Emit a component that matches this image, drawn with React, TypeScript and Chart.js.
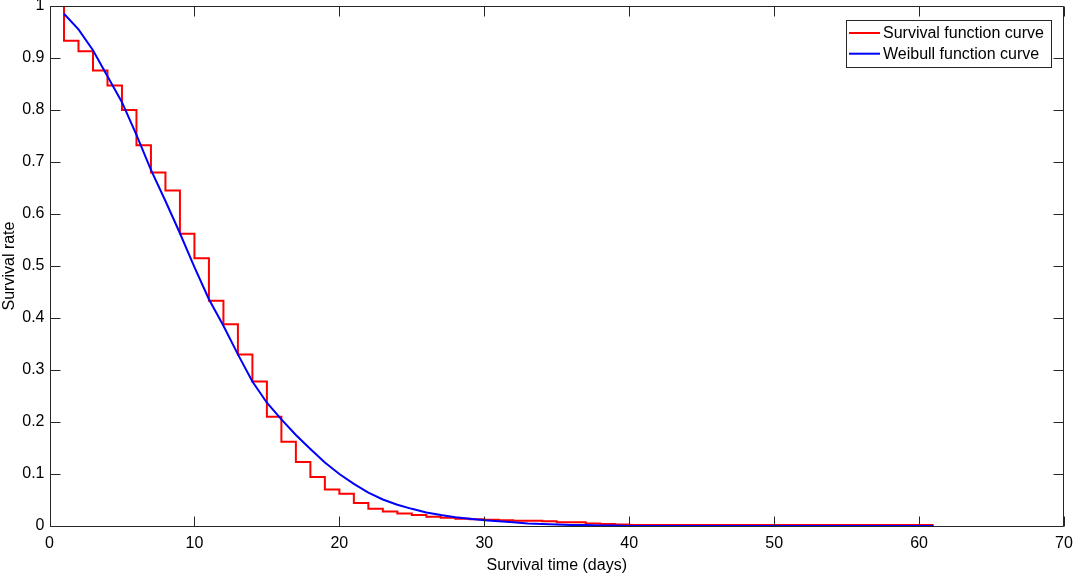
import React, { useEffect, useRef } from "react";
import { Chart, registerables } from "chart.js";

Chart.register(...registerables);

// ---- Data ----
const xTicks = [0, 10, 20, 30, 40, 50, 60, 70];
const xTickLabels = ["0", "10", "20", "30", "40", "50", "60", "70"];
const yTicks = [0, 0.1, 0.2, 0.3, 0.4, 0.5, 0.6, 0.7, 0.8, 0.9, 1];
const yTickLabels = ["0", "0.1", "0.2", "0.3", "0.4", "0.5", "0.6", "0.7", "0.8", "0.9", "1"];

const seriesLabels = ["Survival function curve", "Weibull function curve"];
const seriesColors = ["#ff0000", "#0000ff"];
const xAxisTitle = "Survival time (days)";
const yAxisTitle = "Survival rate";

// Kaplan-Meier style step curve (value holds from x until next x)
const survivalX = [
  1, 1, 2, 3, 4, 5, 6, 7, 8, 9, 10, 11, 12, 13, 14, 15, 16, 17, 18, 19, 20,
  21, 22, 23, 24, 25, 26, 27, 28, 29, 30, 31, 32, 33, 34, 35, 36, 37, 38, 39, 40, 61,
];
const survivalY = [
  1, 0.933, 0.913, 0.876, 0.847, 0.8, 0.732, 0.68, 0.645, 0.562, 0.515, 0.433,
  0.388, 0.33, 0.278, 0.21, 0.162, 0.123, 0.094, 0.07, 0.062, 0.044, 0.033,
  0.028, 0.024, 0.021, 0.018, 0.016, 0.014, 0.013, 0.012, 0.011, 0.01, 0.01,
  0.009, 0.007, 0.007, 0.005, 0.004, 0.003, 0.002, 0.002,
];

// Fitted Weibull curve
const weibullX = [
  1, 2, 3, 4, 5, 6, 7, 8, 9, 10, 11, 12, 13, 14, 15, 16, 17, 18, 19, 20,
  21, 22, 23, 24, 25, 26, 27, 28, 29, 30, 31, 32, 33, 34, 35, 36, 37, 38, 39, 40,
  41, 42, 43, 44, 45, 46, 47, 48, 49, 50, 51, 52, 53, 54, 55, 56, 57, 58, 59, 60, 61,
];
const weibullY = [
  0.985, 0.955, 0.915, 0.865, 0.815, 0.752, 0.685, 0.625, 0.563, 0.498, 0.436,
  0.385, 0.33, 0.278, 0.237, 0.205, 0.175, 0.148, 0.122, 0.1, 0.081, 0.064,
  0.051, 0.041, 0.033, 0.026, 0.021, 0.017, 0.014, 0.011, 0.009, 0.007, 0.005,
  0.004, 0.003, 0.002, 0.002, 0.001, 0.001, 0, 0, 0, 0, 0, 0, 0, 0, 0, 0, 0, 0,
  0, 0, 0, 0, 0, 0, 0, 0, 0, 0,
];

// ---- Style ----
const AXIS_COLOR = "#262626";
const FONT_FAMILY = "'Liberation Sans', Arial, Helvetica, sans-serif";
const FONT_SIZE = 16;
const TICK_LEN = 10;

const boxPlugin = {
  id: "matlabBox",
  afterDatasetsDraw(chart: any) {
    const { ctx, chartArea, scales } = chart;
    const { left, right, top, bottom } = chartArea;
    const L = Math.round(left) + 0.5;
    const R = Math.round(right) - 0.5;
    const T = Math.round(top) + 0.5;
    const B = Math.round(bottom) + 0.5;
    ctx.save();
    ctx.strokeStyle = AXIS_COLOR;
    ctx.lineWidth = 1;
    ctx.beginPath();
    ctx.rect(L, T, R - L, B - T);
    ctx.stroke();
    ctx.beginPath();
    for (const v of xTicks) {
      const px = Math.round(scales.x.getPixelForValue(v)) + 0.5;
      ctx.moveTo(px, B);
      ctx.lineTo(px, B - TICK_LEN);
      ctx.moveTo(px, T);
      ctx.lineTo(px, T + TICK_LEN);
    }
    for (const v of yTicks) {
      const py = Math.round(scales.y.getPixelForValue(v)) + 0.5;
      ctx.moveTo(L, py);
      ctx.lineTo(L + TICK_LEN, py);
      ctx.moveTo(R, py);
      ctx.lineTo(R - TICK_LEN, py);
    }
    ctx.stroke();
    ctx.restore();
  },
  afterDraw(chart: any) {
    const { ctx } = chart;
    const boxL = 846.5;
    const boxT = 20.5;
    const boxW = 205;
    const boxH = 47;
    ctx.save();
    ctx.fillStyle = "#ffffff";
    ctx.fillRect(boxL, boxT, boxW, boxH);
    ctx.strokeStyle = AXIS_COLOR;
    ctx.lineWidth = 1;
    ctx.strokeRect(boxL, boxT, boxW, boxH);
    ctx.font = `${FONT_SIZE}px ${FONT_FAMILY}`;
    ctx.textBaseline = "middle";
    ctx.textAlign = "left";
    chart.data.datasets.forEach((ds: any, i: number) => {
      const ly = boxT + 12.5 + i * 20.7;
      ctx.strokeStyle = ds.borderColor;
      ctx.lineWidth = 2;
      ctx.beginPath();
      ctx.moveTo(849, ly);
      ctx.lineTo(880, ly);
      ctx.stroke();
      ctx.fillStyle = "#000000";
      ctx.fillText(ds.label, 883, ly + 1);
    });
    ctx.restore();
  },
};

export default function App() {
  const canvasRef = useRef<HTMLCanvasElement | null>(null);

  useEffect(() => {
    const canvas = canvasRef.current;
    if (!canvas) return;
    const font = { family: FONT_FAMILY, size: FONT_SIZE };
    const chart = new Chart(canvas, {
      type: "line",
      data: {
        datasets: [
          {
            label: seriesLabels[0],
            data: survivalX.map((x, i) => ({ x, y: survivalY[i] })),
            borderColor: seriesColors[0],
            backgroundColor: seriesColors[0],
            borderWidth: 2,
            pointRadius: 0,
            stepped: "before",
            fill: false,
            order: 1,
          },
          {
            label: seriesLabels[1],
            data: weibullX.map((x, i) => ({ x, y: weibullY[i] })),
            borderColor: seriesColors[1],
            backgroundColor: seriesColors[1],
            borderWidth: 2,
            pointRadius: 0,
            tension: 0,
            fill: false,
            order: 0,
          },
        ],
      },
      options: {
        animation: false,
        responsive: false,
        events: [],
        layout: { padding: { top: 6, right: 10, left: 0, bottom: 0 } },
        plugins: {
          legend: { display: false },
          tooltip: { enabled: false },
        },
        scales: {
          x: {
            type: "linear",
            min: 0,
            max: 70,
            afterBuildTicks: (s: any) => {
              s.ticks = xTicks.map((v) => ({ value: v }));
            },
            afterFit: (s: any) => {
              s.height = 49;
              s.paddingLeft = 0;
              s.paddingRight = 0;
            },
            grid: { display: false, drawTicks: false },
            border: { display: false },
            ticks: {
              autoSkip: false,
              maxRotation: 0,
              color: "#000000",
              font,
              padding: 8,
              callback: (v: any) => xTickLabels[xTicks.indexOf(Number(v))],
            },
            title: {
              display: true,
              text: xAxisTitle,
              color: "#000000",
              font,
              padding: { top: 0, bottom: 0 },
            },
          },
          y: {
            type: "linear",
            min: 0,
            max: 1,
            afterBuildTicks: (s: any) => {
              s.ticks = yTicks.map((v) => ({ value: v }));
            },
            afterFit: (s: any) => {
              s.width = 49.5;
              s.paddingTop = 0;
              s.paddingBottom = 0;
            },
            grid: { display: false, drawTicks: false },
            border: { display: false },
            ticks: {
              autoSkip: false,
              color: "#000000",
              font,
              padding: 5,
              callback: (v: any) => {
                const idx = yTicks.findIndex((t) => Math.abs(t - Number(v)) < 1e-9);
                return idx >= 0 ? yTickLabels[idx] : "";
              },
            },
            title: {
              display: true,
              text: yAxisTitle,
              color: "#000000",
              font,
              padding: { top: 0, bottom: 0 },
            },
          },
        },
      },
      plugins: [boxPlugin],
    });
    return () => chart.destroy();
  }, []);

  return (
    <div style={{ position: "absolute", left: 0, top: 0, width: 1074, height: 575, background: "#fff" }}>
      <canvas ref={canvasRef} width={1074} height={575} style={{ display: "block" }} />
    </div>
  );
}
